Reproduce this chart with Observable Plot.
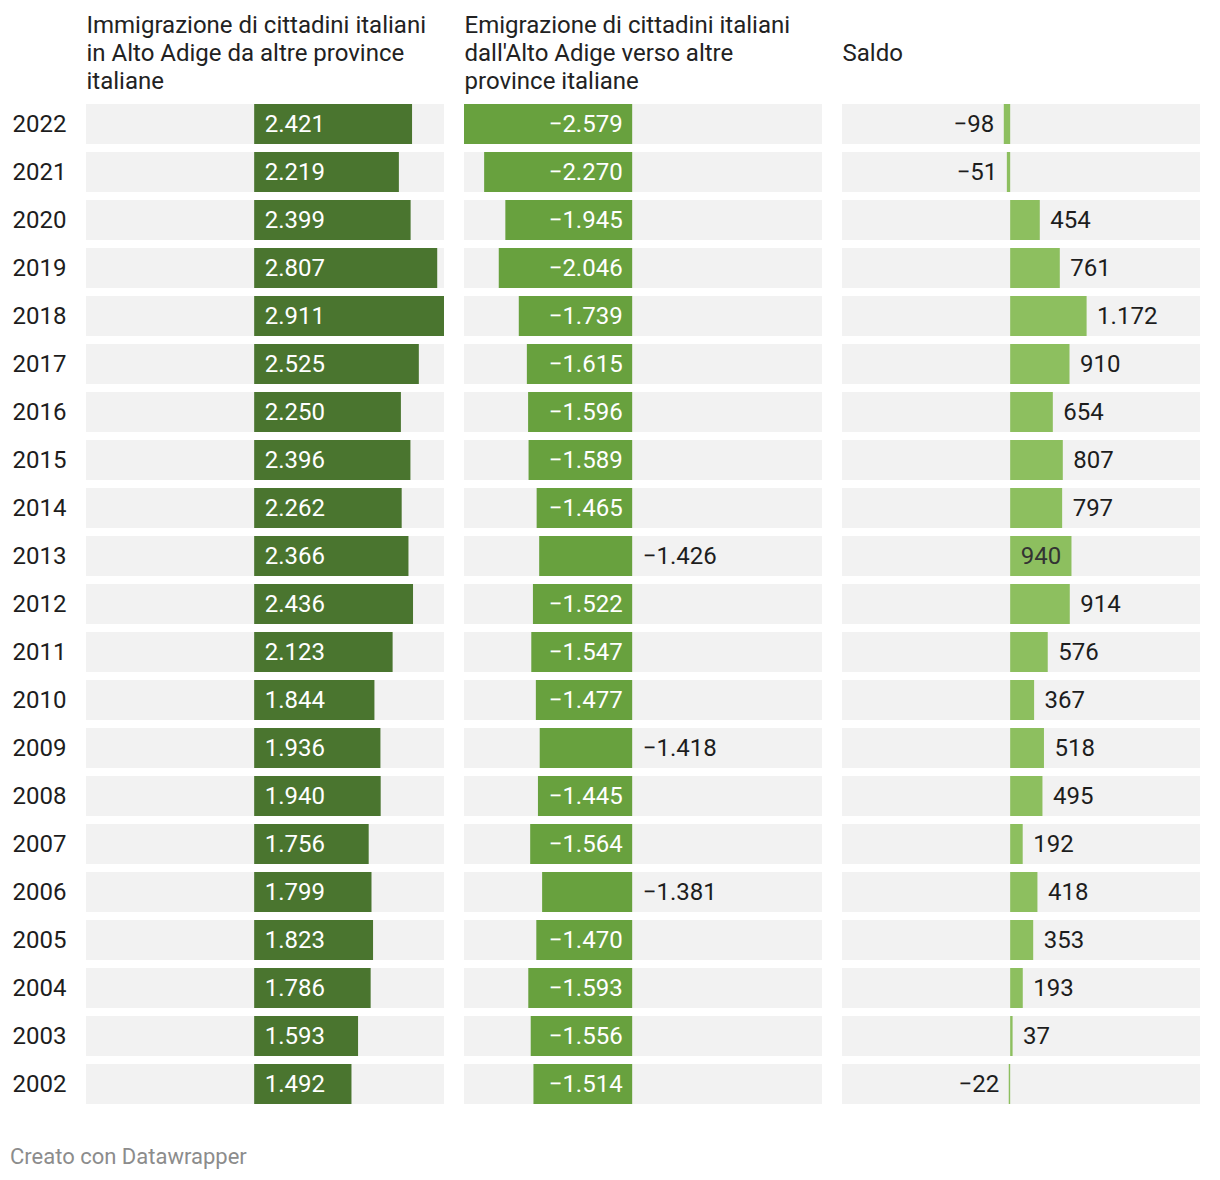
<!DOCTYPE html>
<html>
<head>
<meta charset="utf-8">
<script src="https://cdn.jsdelivr.net/npm/d3@7"></script>
<script src="https://cdn.jsdelivr.net/npm/@observablehq/plot@0.6"></script>
<style>
  html, body { margin: 0; padding: 0; background: #ffffff; }
  body { width: 1220px; height: 1180px; position: relative; font-family: Roboto, "Noto Sans", sans-serif; }
  #chart { position: absolute; left: 0; top: 0; }
  #footer { position: absolute; left: 10px; top: 1143px; font-size: 22px; line-height: 28px; color: #8c8c8c; font-family: Roboto, sans-serif; }
</style>
</head>
<body>
<div id="chart"></div>
<div id="footer">Creato con Datawrapper</div>
<script>
const years = [2022, 2021, 2020, 2019, 2018, 2017, 2016, 2015, 2014, 2013, 2012, 2011, 2010, 2009, 2008, 2007, 2006, 2005, 2004, 2003, 2002];
const immigrazione = [2421, 2219, 2399, 2807, 2911, 2525, 2250, 2396, 2262, 2366, 2436, 2123, 1844, 1936, 1940, 1756, 1799, 1823, 1786, 1593, 1492];
const emigrazione = [-2579, -2270, -1945, -2046, -1739, -1615, -1596, -1589, -1465, -1426, -1522, -1547, -1477, -1418, -1445, -1564, -1381, -1470, -1593, -1556, -1514];
const saldo = [-98, -51, 454, 761, 1172, 910, 654, 807, 797, 940, 914, 576, 367, 518, 495, 192, 418, 353, 193, 37, -22];
const panels = ["imm", "emi", "sal"];
const headers = [
  "Immigrazione di cittadini italiani\nin Alto Adige da altre province\nitaliane",
  "Emigrazione di cittadini italiani\ndall'Alto Adige verso altre\nprovince italiane",
  "Saldo"
];
const colors = ["#4a752f", "#68a13e", "#8dbf5f"];

const fmt = d3.formatLocale({decimal: ",", thousands: ".", grouping: [3], currency: ["", "€"], minus: "\u2212"}).format(",d");

const series = {imm: immigrazione, emi: emigrazione, sal: saldo};
const rows = [];
panels.forEach(p => years.forEach((y, i) => rows.push({panel: p, year: y, value: series[p][i]})));
const headerRows = panels.map((p, i) => ({panel: p, label: headers[i]}));

const xDomain = [d3.min(emigrazione), d3.max(immigrazione)];

// label placement rules (Datawrapper-like)
const insideSaldo = new Set([2013]);
const emiInside = d => Math.abs(d.value) >= 1440;
const lbl = {
  immIn: rows.filter(d => d.panel === "imm"),
  emiIn: rows.filter(d => d.panel === "emi" && emiInside(d)),
  emiOut: rows.filter(d => d.panel === "emi" && !emiInside(d)),
  salIn: rows.filter(d => d.panel === "sal" && insideSaldo.has(d.year)),
  salPos: rows.filter(d => d.panel === "sal" && !insideSaldo.has(d.year) && d.value >= 0),
  salNeg: rows.filter(d => d.panel === "sal" && d.value < 0)
};

const FS = 24;
const dark = "#1d1d1d";

const chart = Plot.plot({
  width: 1220,
  height: 1120,
  marginLeft: 86,
  marginRight: 20,
  marginTop: 104,
  marginBottom: 16,
  style: {fontFamily: "Roboto, sans-serif", fontSize: FS + "px", color: dark, background: "transparent"},
  fx: {domain: panels, paddingInner: 20 / 378, paddingOuter: 0, axis: null, label: null},
  x: {domain: xDomain, axis: null},
  y: {domain: years, paddingInner: 8 / 48, paddingOuter: 0, label: null, tickSize: 0, tickPadding: 20, tickFormat: d => String(d)},
  color: {domain: panels, range: colors},
  marks: [
    Plot.barX(years, {y: d => d, x1: () => xDomain[0], x2: () => xDomain[1], fill: "#f2f2f2"}),
    Plot.barX(rows, {fx: "panel", y: "year", x1: () => 0, x2: "value", fill: "panel"}),
    Plot.text(headerRows, {fx: "panel", text: "label", frameAnchor: "top-left", dy: -52, lineAnchor: "middle", lineHeight: 28 / FS, textAnchor: "start", fill: "#222", fontSize: FS}),
    Plot.text(lbl.immIn, {fx: "panel", y: "year", x: () => 0, dx: 10, textAnchor: "start", text: d => fmt(d.value), fill: "white", fontSize: FS}),
    Plot.text(lbl.emiIn, {fx: "panel", y: "year", x: () => 0, dx: -10, textAnchor: "end", text: d => fmt(d.value), fill: "white", fontSize: FS}),
    Plot.text(lbl.emiOut, {fx: "panel", y: "year", x: () => 0, dx: 10, textAnchor: "start", text: d => fmt(d.value), fill: dark, fontSize: FS}),
    Plot.text(lbl.salIn, {fx: "panel", y: "year", x: () => 0, dx: 10, textAnchor: "start", text: d => fmt(d.value), fill: "#333", fontSize: FS}),
    Plot.text(lbl.salPos, {fx: "panel", y: "year", x: "value", dx: 10, textAnchor: "start", text: d => fmt(d.value), fill: dark, fontSize: FS}),
    Plot.text(lbl.salNeg, {fx: "panel", y: "year", x: "value", dx: -10, textAnchor: "end", text: d => fmt(d.value), fill: dark, fontSize: FS})
  ]
});
document.getElementById("chart").appendChild(chart);
</script>
</body>
</html>
